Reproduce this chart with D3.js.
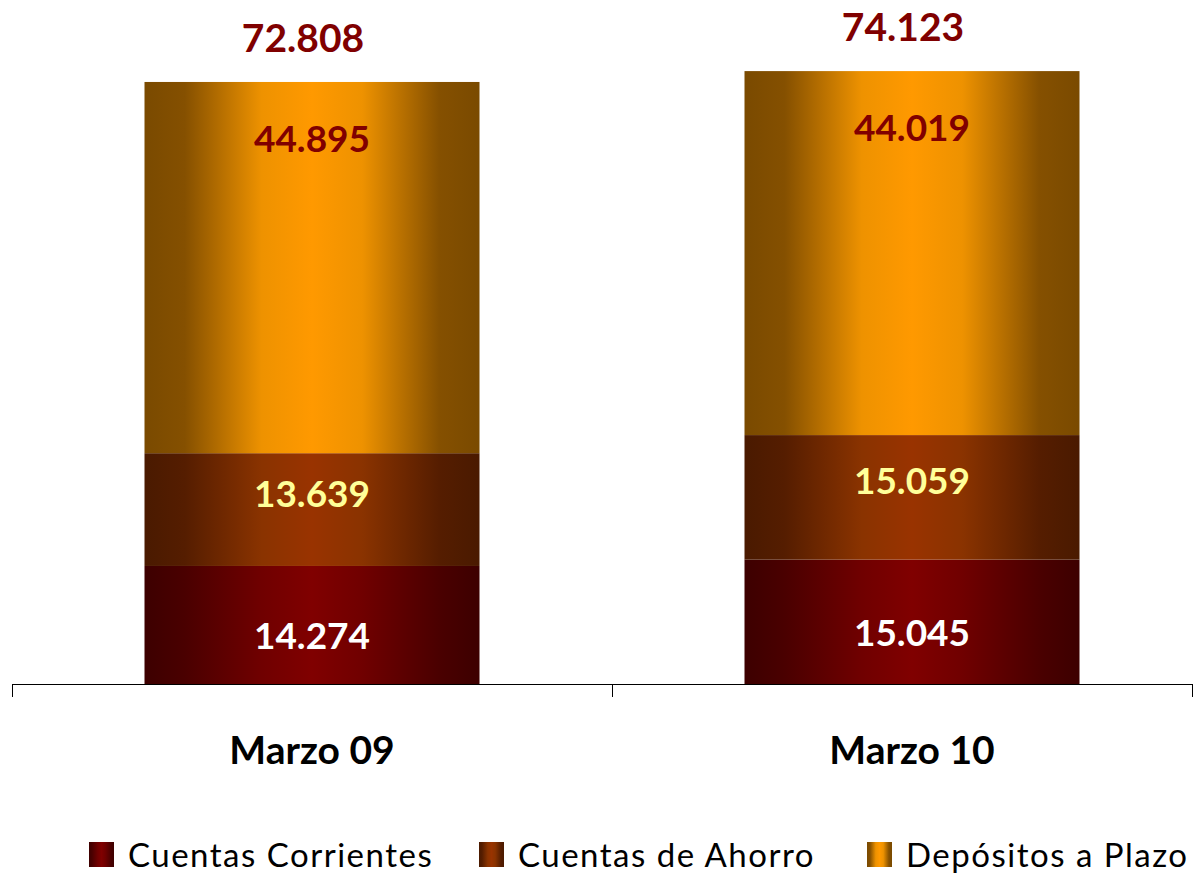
<!DOCTYPE html>
<html><head><meta charset="utf-8">
<script src="https://cdn.jsdelivr.net/npm/d3@7"></script>
<style>
html,body{margin:0;padding:0;background:#fff;}
svg{display:block;font-family:Lato,"Open Sans",sans-serif;}
</style></head>
<body><svg id="c" width="1194" height="876"></svg>
<script>
const categories = ["Marzo 09", "Marzo 10"];
const seriesNames = ["Cuentas Corrientes", "Cuentas de Ahorro", "Depósitos a Plazo"];
const cuentasCorrientes = [14274, 15045];
const cuentasAhorro = [13639, 15059];
const depositosPlazo = [44895, 44019];
const totals = [72808, 74123];
const labelColors = ["#ffffff", "#ffff99", "#800000"];
const gradStops = [
  [["#3d0000",0],["#4a0000",0.12],["#700000",0.35],["#800000",0.5],["#700000",0.65],["#4a0000",0.88],["#3d0000",1]],
  [["#4a1a00",0],["#551d00",0.12],["#8a3300",0.35],["#993300",0.5],["#8a3300",0.65],["#551d00",0.88],["#4a1a00",1]],
  [["#7a4a00",0],["#855000",0.12],["#ee9200",0.35],["#ff9900",0.5],["#ee9200",0.65],["#855000",0.88],["#7a4a00",1]]
];

const svg = d3.select("#c");
const defs = svg.append("defs");
gradStops.forEach((st,i)=>{
  const g = defs.append("linearGradient").attr("id","g"+i).attr("x1","0").attr("x2","1").attr("y1","0").attr("y2","0");
  st.forEach(([c,o])=>g.append("stop").attr("offset",o).attr("stop-color",c));
});

const x = d3.scaleBand().domain(categories).range([12,1212]).paddingInner(0.44167).paddingOuter(0.44167/2);
const y = d3.scaleLinear().domain([0,80000]).range([684,22.5]);

const data = categories.map((c,i)=>({cat:c, v:[cuentasCorrientes[i], cuentasAhorro[i], depositosPlazo[i]], total: totals[i]}));
const fmt = v => d3.format(",")(v).replace(/,/g,".");

data.forEach(d=>{
  const bx = x(d.cat), bw = x.bandwidth(), cx = bx + bw/2;
  let cum = 0;
  d.v.forEach((v,i)=>{
    const y0 = y(cum), y1 = y(cum+v);
    svg.append("rect").attr("x",bx).attr("y",y1).attr("width",bw).attr("height",y0-y1).attr("fill","url(#g"+i+")");
    let vc;
    if (i===0) vc = (y0+y1)/2 + 11;
    else if (i===1) vc = (y0+y1)/2 - 16;
    else vc = y1 + 57;
    svg.append("text").attr("x",cx).attr("y",vc+13).attr("text-anchor","middle")
      .attr("font-size",37).attr("font-weight","bold").attr("fill",labelColors[i]).text(fmt(v));
    cum += v;
  });
  svg.append("text").attr("x",cx-9).attr("y",y(cum)-44+14).attr("text-anchor","middle")
    .attr("font-size",39).attr("font-weight","bold").attr("fill","#800000").text(fmt(d.total));
});

// axis
const ax = svg.append("g").attr("transform","translate(0,684)");
ax.append("line").attr("x1",12).attr("x2",1192).attr("y1",0.5).attr("y2",0.5).attr("stroke","#000").attr("stroke-width",1);
const tickXs = [12, 12+x.step(), 1192];
tickXs.forEach(t=>ax.append("line").attr("x1",t+0.5).attr("x2",t+0.5).attr("y1",0).attr("y2",13).attr("stroke","#000"));
categories.forEach(c=>{
  svg.append("text").attr("x",x(c)+x.bandwidth()/2).attr("y",764).attr("text-anchor","middle")
    .attr("font-size",39).attr("font-weight","bold").attr("fill","#000").text(c);
});

// legend
const legX = [89, 479, 867];
seriesNames.forEach((n,i)=>{
  svg.append("rect").attr("x",legX[i]).attr("y",842).attr("width",25).attr("height",25).attr("fill","url(#g"+i+")");
  svg.append("text").attr("x",legX[i]+39).attr("y",867).attr("font-size",33).attr("letter-spacing","1.5px").attr("fill","#000").text(n);
});
</script></body></html>
